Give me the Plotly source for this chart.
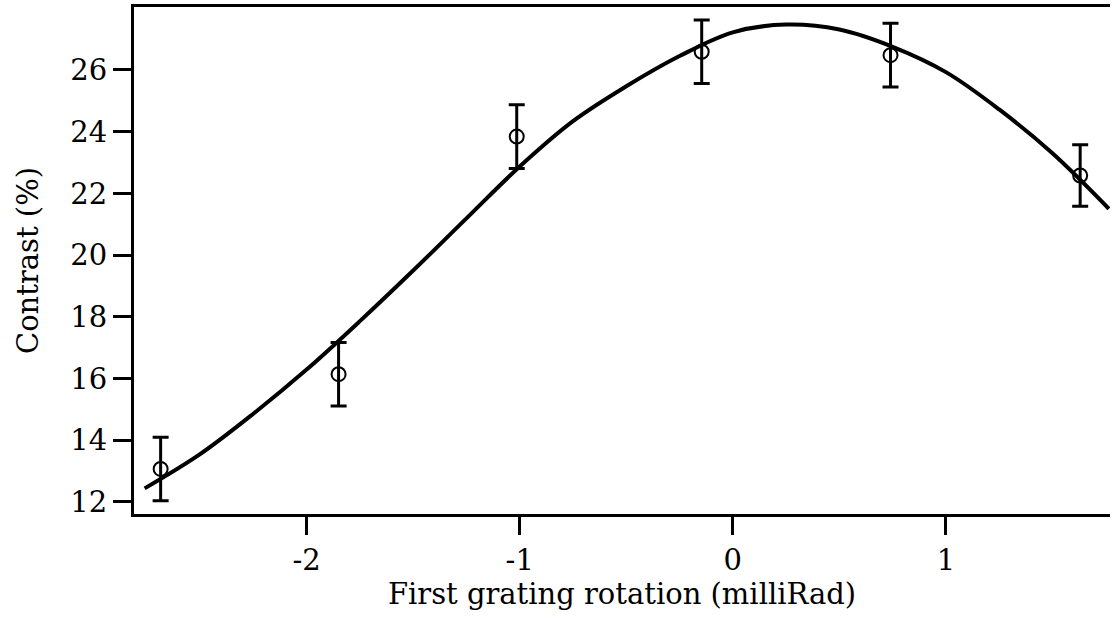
import plotly.graph_objects as go

# Measured data points
rotation = [-2.685, -1.85, -1.014, -0.146, 0.74, 1.63]
contrast = [13.07, 16.14, 23.84, 26.59, 26.48, 22.58]
error = [1.03, 1.03, 1.03, 1.03, 1.03, 1.0]

# Fit curve
fit_x = [-2.76, -2.5, -2.25, -2.0, -1.75, -1.5, -1.25, -1.0, -0.75, -0.5,
         -0.25, 0.0, 0.25, 0.5, 0.75, 1.0, 1.25, 1.5, 1.765]
fit_y = [12.44, 13.55, 14.86, 16.29, 17.86, 19.50, 21.19, 22.87, 24.34, 25.47,
         26.45, 27.22, 27.47, 27.31, 26.75, 25.93, 24.72, 23.30, 21.50]

x_ticks = [-2, -1, 0, 1]
y_ticks = [12, 14, 16, 18, 20, 22, 24, 26]

FONT = "DejaVu Serif"
FS = 29

fig = go.Figure()
fig.add_trace(go.Scatter(
    x=fit_x, y=fit_y, mode="lines",
    line=dict(color="black", width=4, shape="spline", smoothing=1.0),
    showlegend=False, hoverinfo="skip"))
fig.add_trace(go.Scatter(
    x=rotation, y=contrast, mode="markers",
    marker=dict(symbol="circle-open", size=14, color="black", line=dict(width=2)),
    error_y=dict(type="data", array=error, visible=True, color="black",
                 thickness=3, width=8),
    showlegend=False))

fig.update_layout(
    width=1113, height=624,
    margin=dict(l=134, r=3, t=7, b=110),
    plot_bgcolor="white", paper_bgcolor="white",
    font=dict(family=FONT, size=FS, color="black"),
    xaxis=dict(
        range=[-2.81, 1.77], tickvals=x_ticks, ticktext=[str(v) for v in x_ticks],
        showgrid=False, zeroline=False, showline=True, linecolor="black",
        linewidth=3, mirror=True, ticks="outside", ticklen=18, tickwidth=3,
        tickcolor="black", tickfont=dict(size=FS, family=FONT),
        title=dict(text="First grating rotation (milliRad)",
                   font=dict(size=FS, family=FONT), standoff=3)),
    yaxis=dict(
        range=[11.61, 28.04], tickvals=y_ticks, ticktext=[str(v) for v in y_ticks],
        showgrid=False, zeroline=False, showline=True, linecolor="black",
        linewidth=3, mirror=False, ticks="outside", ticklen=18, tickwidth=3,
        tickcolor="black", tickfont=dict(size=FS, family=FONT),
        title=dict(text="Contrast (%)", font=dict(size=FS, family=FONT), standoff=24)),
)

fig.write_html("out.html")
